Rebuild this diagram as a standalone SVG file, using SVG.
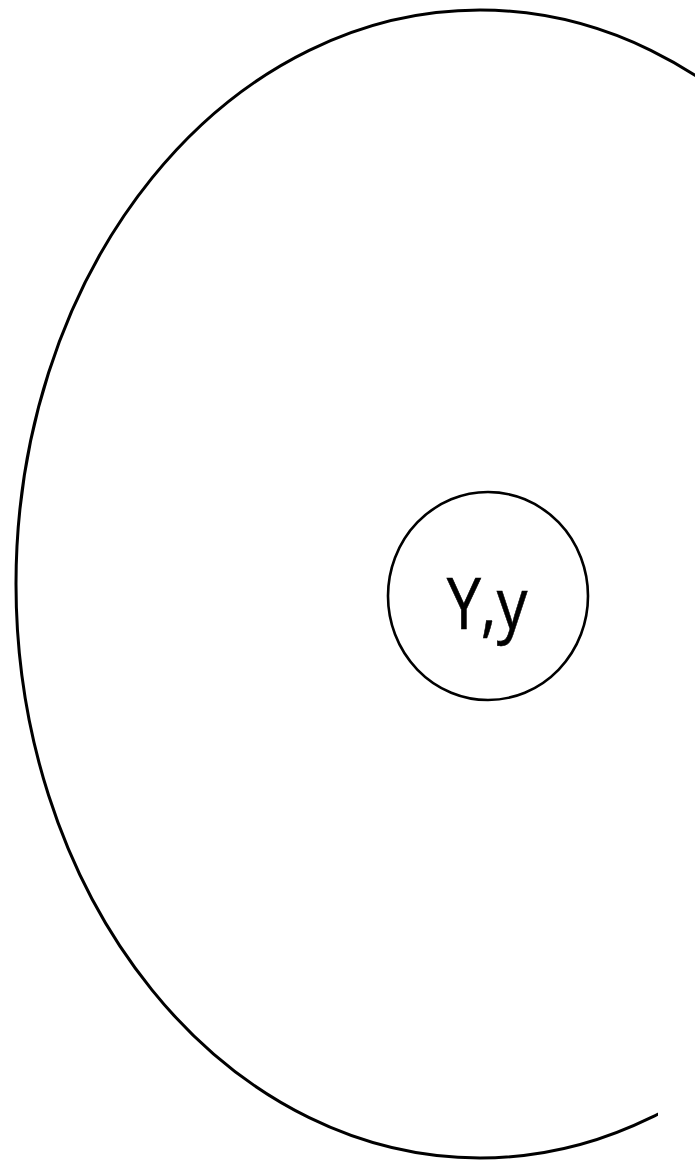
<svg xmlns="http://www.w3.org/2000/svg" width="695" height="1164" viewBox="0 0 695 1164">
  <defs>
    <clipPath id="cut">
      <rect x="0" y="0" width="695" height="600"/>
      <rect x="0" y="600" width="658" height="564"/>
    </clipPath>
    <style>
      .outline { fill: none; stroke: #000; }
      .label { font-family: "Open Sans", "Noto Sans", "DejaVu Sans", sans-serif; font-size: 72px; font-weight: 500; fill: #000; stroke: #000; stroke-width: 0.6px; }
    </style>
  </defs>
  <rect width="695" height="1164" fill="#fff"/>
  <g id="outer">
    <ellipse class="outline" cx="480" cy="584" rx="464" ry="574" stroke-width="3" clip-path="url(#cut)"/>
  </g>
  <g id="node-Yy">
    <ellipse class="outline" cx="488" cy="596" rx="100" ry="104" stroke-width="2.6"/>
    <text class="label" text-anchor="middle" transform="translate(487,629) scale(0.85,1)">Y,y</text>
  </g>
  <g id="connectors"/>
</svg>
